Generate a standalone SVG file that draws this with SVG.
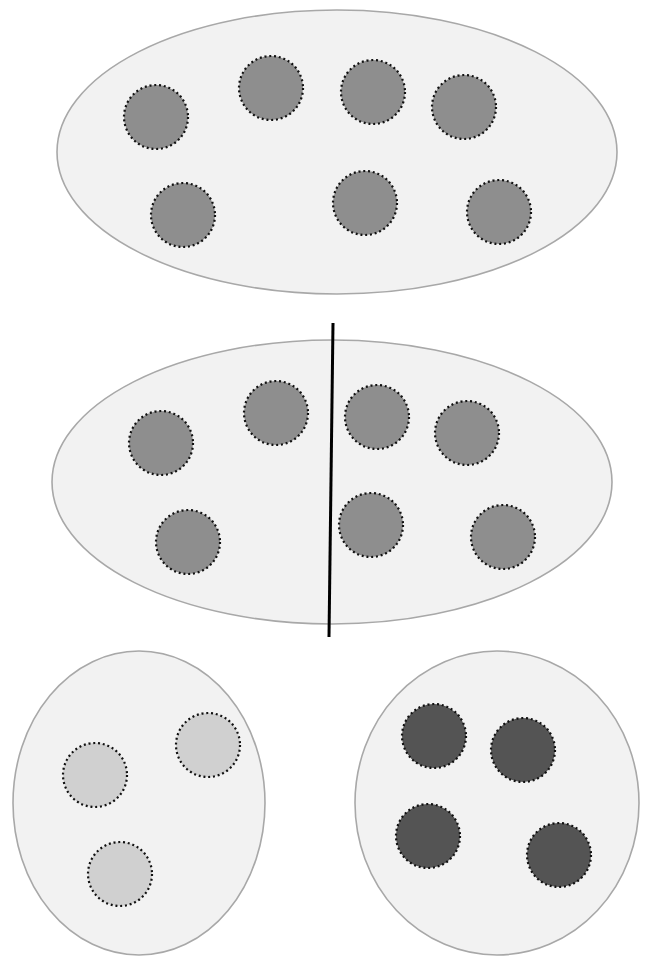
<svg xmlns="http://www.w3.org/2000/svg" width="651" height="956" viewBox="0 0 651 956">
<style>
.set{fill:#f2f2f2;stroke:#a8a8a8;stroke-width:1.6}
.el{stroke:#111;stroke-width:2.2;stroke-dasharray:2 2.8}
.mid{fill:#8e8e8e}
.light{fill:#d0d0d0}
.dark{fill:#545454}
</style>
<rect width="651" height="956" fill="#ffffff"/>
<g id="set-top">
<ellipse class="set" cx="337" cy="152" rx="280" ry="142"/>
<circle class="el mid" cx="156" cy="117" r="32"/>
<circle class="el mid" cx="271" cy="88" r="32"/>
<circle class="el mid" cx="373" cy="92" r="32"/>
<circle class="el mid" cx="464" cy="107" r="32"/>
<circle class="el mid" cx="183" cy="215" r="32"/>
<circle class="el mid" cx="365" cy="203" r="32"/>
<circle class="el mid" cx="499" cy="212" r="32"/>
</g>
<g id="set-middle">
<ellipse class="set" cx="332" cy="482" rx="280" ry="142"/>
<circle class="el mid" cx="161" cy="443" r="32"/>
<circle class="el mid" cx="276" cy="413" r="32"/>
<circle class="el mid" cx="377" cy="417" r="32"/>
<circle class="el mid" cx="467" cy="433" r="32"/>
<circle class="el mid" cx="188" cy="542" r="32"/>
<circle class="el mid" cx="371" cy="525" r="32"/>
<circle class="el mid" cx="503" cy="537" r="32"/>
</g>
<g id="set-left">
<ellipse class="set" cx="139" cy="803" rx="126" ry="152"/>
<circle class="el light" cx="95" cy="775" r="32"/>
<circle class="el light" cx="208" cy="745" r="32"/>
<circle class="el light" cx="120" cy="874" r="32"/>
</g>
<g id="set-right">
<ellipse class="set" cx="497" cy="803" rx="142" ry="152"/>
<circle class="el dark" cx="434" cy="736" r="32"/>
<circle class="el dark" cx="523" cy="750" r="32"/>
<circle class="el dark" cx="428" cy="836" r="32"/>
<circle class="el dark" cx="559" cy="855" r="32"/>
</g>
<g id="connectors">
<line x1="333" y1="323" x2="329" y2="637" stroke="#000" stroke-width="3"/>
</g>
</svg>
